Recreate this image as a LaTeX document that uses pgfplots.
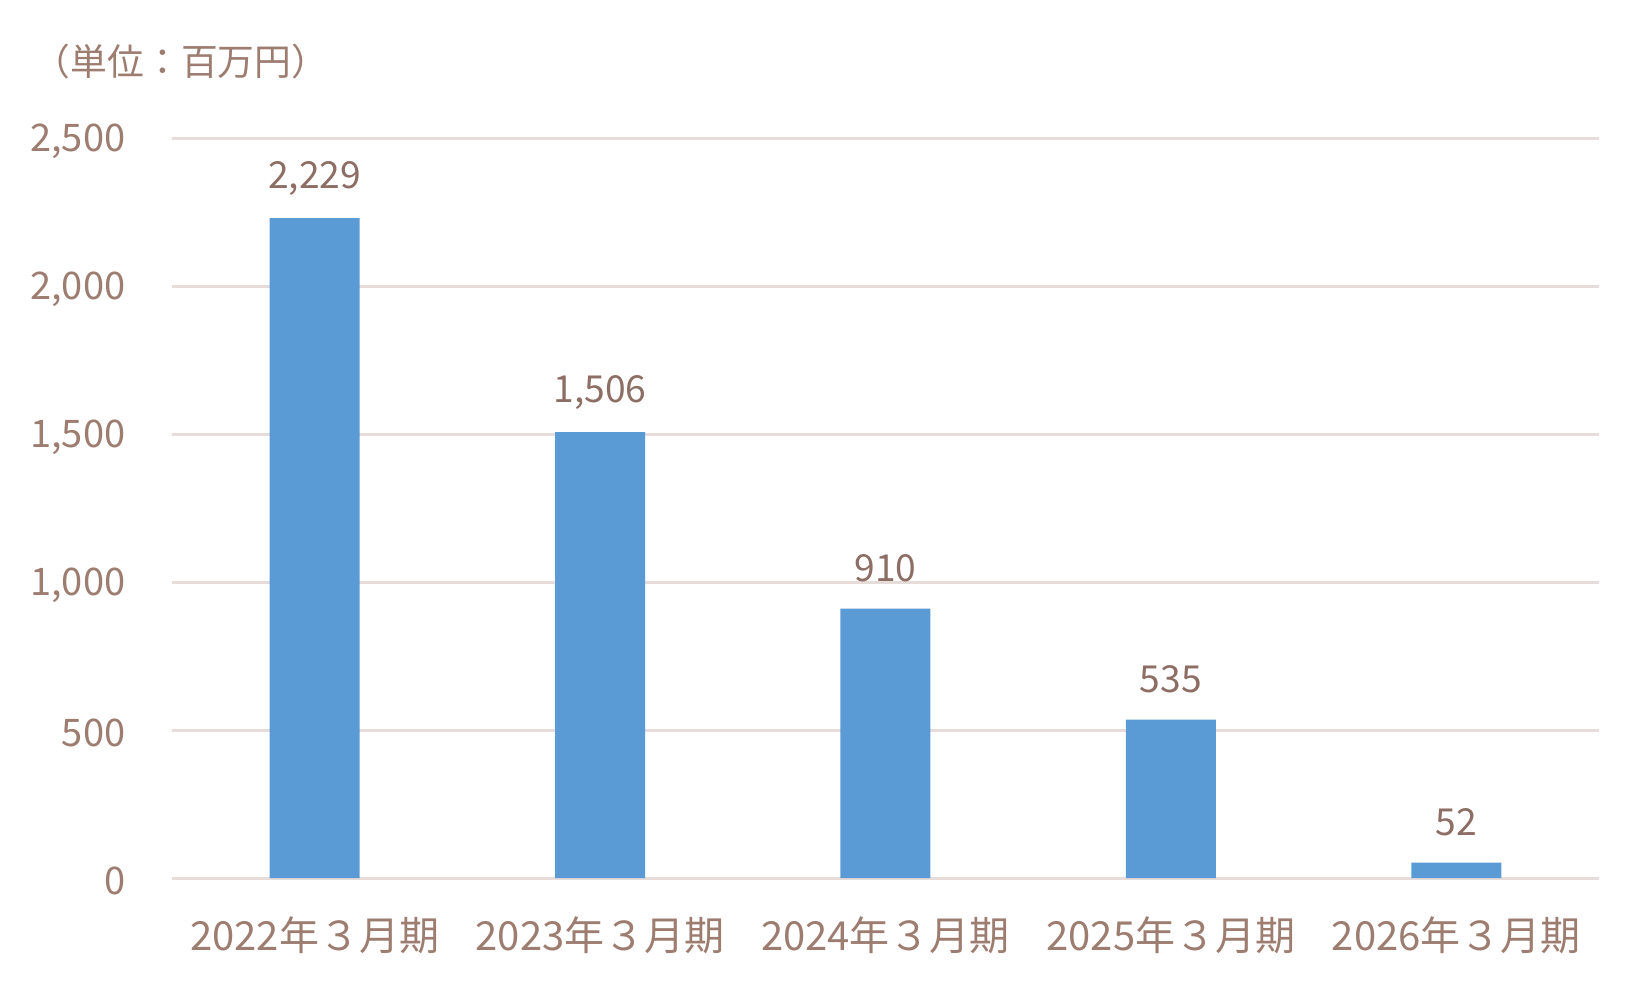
\documentclass[border=0pt]{standalone}
\usepackage{fontspec}
\setmainfont{Noto Sans CJK JP}
\usepackage{pgfplots}
\pgfplotsset{compat=1.18}
\definecolor{barblue}{HTML}{5B9BD5}
\definecolor{tickbrown}{HTML}{9C7D70}
\definecolor{valbrown}{HTML}{8C6E64}
\definecolor{gridc}{HTML}{E6DCDA}
\begin{document}
\begin{tikzpicture}
\useasboundingbox (0,0) rectangle (412.5pt,-247.25pt);
\begin{axis}[
  at={(43pt,-34.5pt)}, anchor=north west,
  scale only axis,
  width=356.75pt, height=185pt,
  ybar, bar width=22.5pt,
  xmin=-0.5, xmax=4.5,
  ymin=0, ymax=2500,
  xtick=data,
  xticklabels={2022年３月期,2023年３月期,2024年３月期,2025年３月期,2026年３月期},
  ytick={0,500,1000,1500,2000,2500},
  scaled ticks=false,
  /pgf/number format/.cd, 1000 sep={,}, assume math mode=true,
  /pgfplots/.cd,
  axis line style={draw=none},
  major tick length=0pt,
  ymajorgrids,
  grid style={gridc, line width=0.75pt},
  yticklabel style={anchor=east, inner sep=0pt, xshift=-11.5pt, yshift=-0.8pt, font=\fontsize{9.5pt}{11pt}\selectfont, text=tickbrown},
  xticklabel style={anchor=center, inner sep=0pt, yshift=-14.25pt, font=\fontsize{10pt}{12pt}\selectfont, text=tickbrown},
  nodes near coords,
  every node near coord/.append style={anchor=center, yshift=10pt, inner sep=0pt, font=\fontsize{9.3pt}{11pt}\selectfont, text=valbrown},
  clip=false,
]
\addplot[fill=barblue, draw=none] coordinates {(0,2229) (1,1506) (2,910) (3,535) (4,52)};
\end{axis}
\node[anchor=west, inner sep=0pt, text=tickbrown, font=\fontsize{9.2pt}{11pt}\selectfont] at (8.25pt,-15.5pt) {（単位：百万円）};
\end{tikzpicture}
\end{document}
